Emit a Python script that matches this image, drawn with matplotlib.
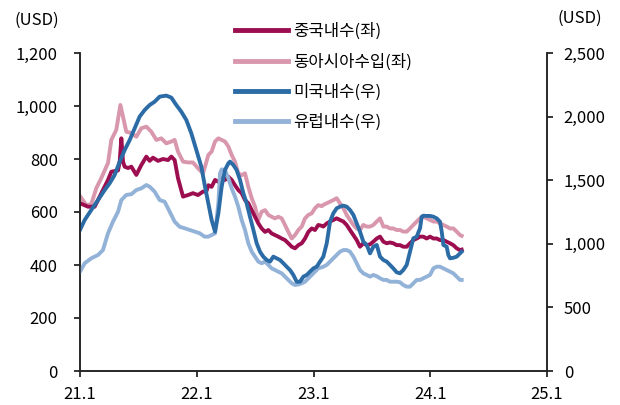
import matplotlib
matplotlib.use("Agg")
import matplotlib.pyplot as plt
from matplotlib.lines import Line2D

plt.rcParams['font.family'] = ['Noto Sans CJK KR', 'DejaVu Sans']

# x = months since 2021.1
m_cn = [0, 0.82, 1.16, 1.51, 2.19, 2.88, 3.22, 3.91, 4.08, 4.25, 4.42, 4.59, 4.93, 5.28,
        5.79, 6.30, 6.82, 7.16, 7.50, 8.02, 8.53, 9.05, 9.39, 9.73, 10.07, 10.59, 11.10,
        11.61, 12.13, 12.64, 12.98, 13.19, 13.53, 13.88, 14.22, 14.56, 14.90, 15.25, 15.59,
        15.93, 16.27, 16.62, 16.96, 17.30, 17.65, 17.99, 18.33, 18.67, 19.02, 19.36, 19.70,
        20.04, 20.38, 20.73, 21.07, 21.41, 21.76, 22.10, 22.44, 22.79, 23.13, 23.47, 23.82,
        24.15, 24.49, 24.84, 25.01, 25.36, 25.70, 26.04, 26.38, 26.72, 27.07, 27.41, 27.75,
        28.10, 28.44, 28.78, 29.12, 29.47, 29.81, 30.15, 30.50, 30.84, 31.18, 31.52, 31.86,
        32.20, 32.55, 32.89, 33.23, 33.58, 33.92, 34.26, 34.61, 34.95, 35.29, 35.63, 35.98,
        36.32, 36.66, 37.00, 37.35, 37.69, 38.03, 38.37, 38.72, 39.06, 39.23]
v_cn = [633, 620, 620, 620, 671, 721, 752, 757, 790, 878, 790, 771, 766, 771,
        740, 777, 809, 793, 805, 793, 800, 796, 809, 796, 728, 658, 664,
        671, 664, 677, 677, 701, 695, 721, 714, 727, 721, 733, 721,
        701, 683, 671, 645, 633, 607, 582, 557, 538, 525, 532, 519,
        513, 507, 500, 494, 482, 469, 463, 475, 482, 500, 525, 538,
        532, 551, 548, 545, 557, 564, 570, 576, 570, 564, 551, 532,
        513, 494, 469, 482, 475, 478, 488, 500, 507, 488, 482, 485,
        482, 475, 475, 469, 469, 482, 494, 500, 507, 507, 500, 507,
        500, 500, 494, 494, 488, 482, 475, 463, 456, 458]

m_ea = [0, 0.65, 1.16, 1.68, 2.19, 2.88, 3.22, 3.73, 4.15, 4.42, 4.76, 5.28, 5.79, 6.30,
        6.82, 7.33, 7.85, 8.36, 8.87, 9.39, 9.73, 10.07, 10.59, 11.10, 11.61, 12.13, 12.64,
        12.85, 13.19, 13.53, 13.88, 14.22, 14.56, 14.90, 15.25, 15.59, 15.93, 16.27, 16.62,
        16.96, 17.30, 17.65, 17.99, 18.33, 18.67, 19.02, 19.36, 19.70, 20.04, 20.38, 20.73,
        21.07, 21.41, 21.76, 22.10, 22.44, 22.79, 23.13, 23.47, 23.82, 24.15, 24.49, 24.84,
        25.01, 25.36, 25.70, 26.04, 26.38, 26.72, 27.07, 27.41, 27.75, 28.10, 28.44, 28.78,
        29.12, 29.47, 29.81, 30.15, 30.50, 30.84, 31.18, 31.52, 31.86, 32.20, 32.55, 32.89,
        33.23, 33.58, 33.92, 34.26, 34.61, 34.95, 35.29, 35.63, 35.98, 36.32, 36.66, 37.00,
        37.35, 37.69, 38.03, 38.37, 38.72, 39.06, 39.23]
v_ea = [660, 626, 630, 690, 728, 785, 872, 910, 1004, 960, 903, 898, 884, 916,
        922, 903, 872, 878, 859, 866, 872, 828, 790, 787, 787, 765, 746,
        771, 815, 828, 866, 878, 872, 866, 847, 815, 790, 746, 739,
        746, 695, 652, 620, 570, 601, 607, 589, 582, 576, 582, 576,
        551, 525, 500, 513, 532, 545, 576, 589, 595, 614, 626, 622,
        627, 633, 639, 645, 652, 633, 614, 589, 570, 551, 538, 532,
        551, 545, 545, 551, 564, 576, 545, 545, 538, 538, 532, 532,
        526, 526, 538, 551, 564, 576, 582, 576, 570, 564, 564, 557,
        551, 545, 538, 538, 526, 513, 510]

m_us = [0, 0.48, 1.16, 1.85, 2.54, 3.05, 3.56, 4.08, 4.59, 5.11, 5.62, 6.13, 6.65, 7.16,
        7.67, 8.19, 8.87, 9.39, 9.90, 10.41, 10.93, 11.44, 11.96, 12.47, 12.85, 13.19, 13.53,
        13.88, 14.22, 14.56, 14.90, 15.25, 15.42, 15.76, 16.10, 16.45, 16.79, 17.13, 17.47,
        17.82, 18.16, 18.50, 18.84, 19.19, 19.53, 19.87, 20.21, 20.55, 20.90, 21.24, 21.58,
        21.93, 22.27, 22.61, 22.96, 23.30, 23.64, 23.99, 24.33, 24.67, 25.01, 25.36, 25.70,
        26.04, 26.38, 26.72, 27.07, 27.41, 27.75, 28.10, 28.44, 28.78, 29.12, 29.47, 29.81,
        30.15, 30.50, 30.84, 31.18, 31.52, 31.86, 32.20, 32.55, 32.89, 33.23, 33.58, 33.92,
        34.26, 34.61, 34.95, 35.12, 35.29, 35.63, 35.98, 36.32, 36.66, 37.00, 37.18, 37.35,
        37.69, 37.86, 38.03, 38.37, 38.72, 39.06, 39.23]
v_us = [1109, 1187, 1266, 1344, 1423, 1476, 1541, 1646, 1737, 1816, 1908, 2000, 2052, 2091,
        2117, 2157, 2165, 2149, 2091, 2039, 1973, 1869, 1737, 1606, 1449, 1318, 1187,
        1095, 1240, 1449, 1580, 1633, 1646, 1620, 1580, 1502, 1397, 1318, 1213,
        1109, 1004, 938, 899, 873, 860, 899, 886, 873, 847, 820, 794,
        755, 702, 702, 742, 755, 781, 807, 820, 860, 899, 1004, 1174,
        1240, 1279, 1292, 1300, 1292, 1266, 1227, 1161, 1095, 1017, 991, 925,
        977, 991, 899, 873, 860, 834, 807, 776, 768, 794, 834, 938,
        1043, 1056, 1122, 1213, 1221, 1219, 1219, 1213, 1200, 1174, 1095, 991,
        977, 912, 886, 890, 899, 925, 938]

m_eu = [0, 0.48, 1.16, 1.85, 2.36, 2.88, 3.39, 3.91, 4.25, 4.76, 5.28, 5.79, 6.30, 6.82,
        7.16, 7.67, 8.19, 8.70, 9.22, 9.73, 10.24, 10.76, 11.27, 11.79, 12.30, 12.81, 13.19,
        13.53, 13.88, 14.22, 14.39, 14.56, 14.90, 15.25, 15.59, 15.93, 16.27, 16.62, 16.96,
        17.30, 17.65, 17.99, 18.33, 18.67, 19.02, 19.36, 19.70, 20.04, 20.38, 20.73, 21.07,
        21.41, 21.76, 22.10, 22.44, 22.79, 23.13, 23.47, 23.82, 24.15, 24.49, 24.84, 25.01,
        25.36, 25.70, 26.04, 26.38, 26.72, 27.07, 27.41, 27.75, 28.10, 28.44, 28.78, 29.12,
        29.47, 29.81, 30.15, 30.50, 30.84, 31.18, 31.52, 31.86, 32.20, 32.55, 32.89, 33.23,
        33.58, 33.92, 34.26, 34.61, 34.95, 35.29, 35.63, 35.98, 36.32, 36.66, 37.00, 37.35,
        37.69, 38.03, 38.37, 38.72, 39.06, 39.23]
v_eu = [781, 847, 886, 912, 951, 1083, 1174, 1252, 1344, 1384, 1390, 1423, 1436, 1462,
        1449, 1410, 1344, 1331, 1252, 1174, 1134, 1122, 1109, 1096, 1083, 1056, 1056,
        1069, 1082, 1318, 1554, 1585, 1580, 1515, 1436, 1371, 1292, 1187, 1109,
        1004, 938, 899, 860, 847, 860, 834, 807, 794, 781, 768, 742,
        716, 690, 676, 680, 690, 702, 729, 755, 781, 807, 815, 820,
        834, 860, 886, 912, 938, 951, 951, 938, 899, 847, 794, 768,
        755, 742, 755, 745, 729, 716, 716, 702, 702, 702, 698, 676,
        663, 663, 689, 716, 716, 729, 742, 755, 807, 820, 820, 807,
        794, 781, 768, 742, 716, 716]

labels = ['중국내수(좌)', '동아시아수입(좌)', '미국내수(우)', '유럽내수(우)']
colors = ['#9c0e4f', '#d997ad', '#2c6ca6', '#93b2d8']
x_ticks = [0, 12, 24, 36, 48]
x_labels = ['21.1', '22.1', '23.1', '24.1', '25.1']
left_ticks = [0, 200, 400, 600, 800, 1000, 1200]
right_ticks = [0, 500, 1000, 1500, 2000, 2500]

fig = plt.figure(figsize=(6.2, 4.05), dpi=100)
ax = fig.add_axes([80/620, 1-371/405, 467/620, 318/405])
ax2 = ax.twinx()

lw = 2.8
ax.plot(m_ea, v_ea, color=colors[1], lw=lw, solid_joinstyle='round')
ax.plot(m_cn, v_cn, color=colors[0], lw=lw, solid_joinstyle='round')
ax2.plot(m_eu, v_eu, color=colors[3], lw=lw, solid_joinstyle='round')
ax2.plot(m_us, v_us, color=colors[2], lw=lw, solid_joinstyle='round')

ax.set_xlim(0, 48)
ax.set_ylim(0, 1200)
ax2.set_ylim(0, 2500)
ax.set_xticks(x_ticks)
ax.set_xticklabels(x_labels)
ax.set_yticks(left_ticks)
ax.set_yticklabels([f'{v:,}' for v in left_ticks])
ax2.set_yticks(right_ticks)
ax2.set_yticklabels([f'{v:,}' for v in right_ticks])

for a in (ax, ax2):
    a.spines['top'].set_visible(False)
    for s in a.spines.values():
        s.set_color('#222222')
        s.set_linewidth(1.1)
ax.tick_params(axis='y', direction='out', length=4, width=1.1, pad=12, labelsize=12)
ax.tick_params(axis='x', direction='out', length=4, width=1.1, pad=7, labelsize=12)
ax2.tick_params(axis='y', direction='out', length=4, width=1.1, pad=8, labelsize=12)

fig.text(37/620, 1-20/405, '(USD)', ha='center', va='center', fontsize=12)
fig.text(580/620, 1-18/405, '(USD)', ha='center', va='center', fontsize=12)

handles = [Line2D([], [], color=c, lw=3.5) for c in colors]
fig.legend(handles, labels, loc='upper left', bbox_to_anchor=(235/620, 1-23/405),
           frameon=False, fontsize=12, handlelength=3.2, handletextpad=0.3,
           labelspacing=0.78, borderpad=0, borderaxespad=0)

fig.savefig('out.png', dpi=100)
